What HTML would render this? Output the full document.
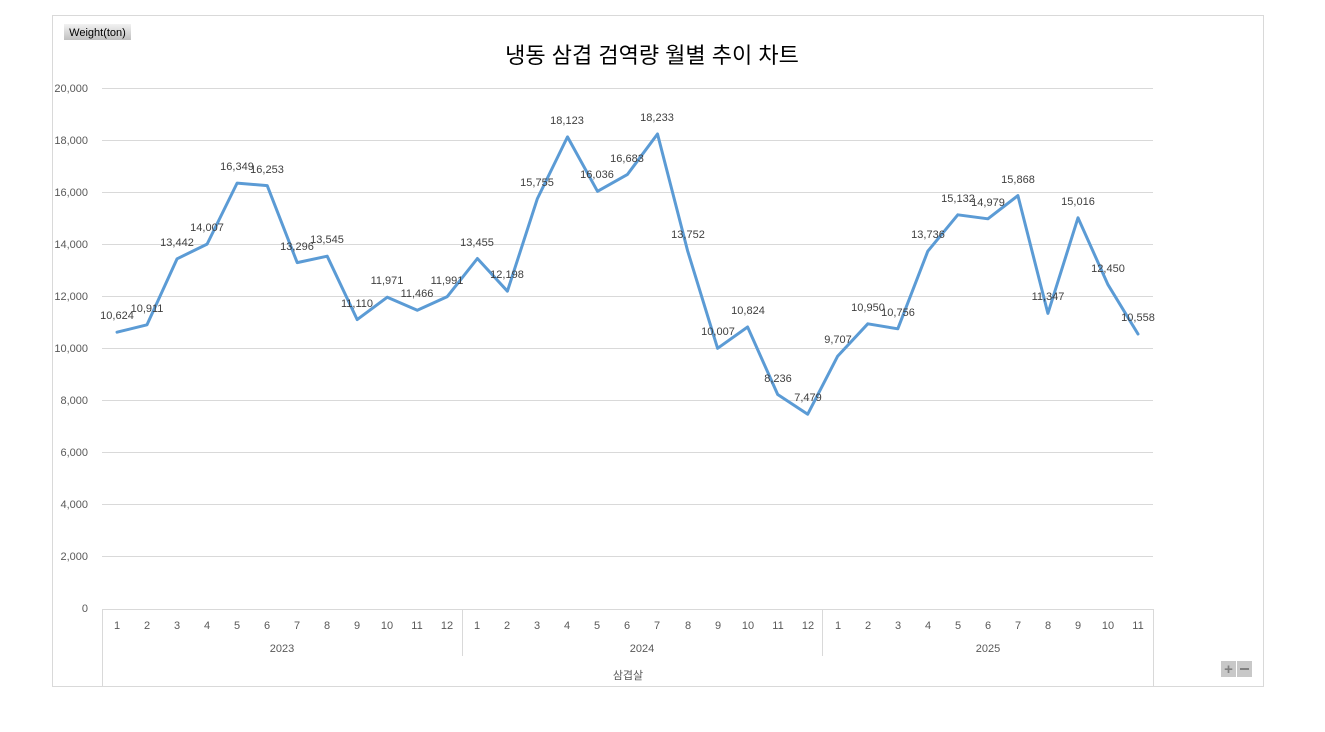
<!DOCTYPE html>
<html><head><meta charset="utf-8"><style>
body{margin:0;background:#fff;}
svg text{font-family:"Liberation Sans","Noto Sans CJK KR",sans-serif;}
</style></head><body>
<svg width="1325" height="727" xmlns="http://www.w3.org/2000/svg">
<rect x="52.5" y="15.5" width="1211" height="671" fill="#fff" stroke="#d9d9d9"/>
<defs><linearGradient id="g" x1="0" y1="0" x2="0" y2="1"><stop offset="0" stop-color="#f2f2f2"/><stop offset="1" stop-color="#bfbfbf"/></linearGradient></defs>
<rect x="64" y="24" width="67" height="16" fill="url(#g)"/>
<text x="97.5" y="36" font-size="11" text-anchor="middle" fill="#000">Weight(ton)</text>
<text x="652" y="63" font-size="22" text-anchor="middle" fill="#000">냉동 삼겹 검역량 월별 추이 차트</text>
<g stroke="#d9d9d9" stroke-width="1">
<line x1="102" y1="88.5" x2="1153" y2="88.5"/><line x1="102" y1="140.5" x2="1153" y2="140.5"/><line x1="102" y1="192.5" x2="1153" y2="192.5"/><line x1="102" y1="244.5" x2="1153" y2="244.5"/><line x1="102" y1="296.5" x2="1153" y2="296.5"/><line x1="102" y1="348.5" x2="1153" y2="348.5"/><line x1="102" y1="400.5" x2="1153" y2="400.5"/><line x1="102" y1="452.5" x2="1153" y2="452.5"/><line x1="102" y1="504.5" x2="1153" y2="504.5"/><line x1="102" y1="556.5" x2="1153" y2="556.5"/>
<line x1="102" y1="609.5" x2="1153" y2="609.5"/>
<line x1="102.5" y1="609" x2="102.5" y2="686"/><line x1="462.5" y1="609" x2="462.5" y2="656"/><line x1="822.5" y1="609" x2="822.5" y2="656"/><line x1="1153.5" y1="609" x2="1153.5" y2="686"/>
</g>
<g font-size="11" fill="#595959" text-anchor="end">
<text x="88" y="92">20,000</text><text x="88" y="144">18,000</text><text x="88" y="196">16,000</text><text x="88" y="248">14,000</text><text x="88" y="300">12,000</text><text x="88" y="352">10,000</text><text x="88" y="404">8,000</text><text x="88" y="456">6,000</text><text x="88" y="508">4,000</text><text x="88" y="560">2,000</text><text x="88" y="612">0</text>
</g>
<g font-size="11" fill="#595959" text-anchor="middle">
<text x="117" y="629">1</text><text x="147" y="629">2</text><text x="177" y="629">3</text><text x="207" y="629">4</text><text x="237" y="629">5</text><text x="267" y="629">6</text><text x="297" y="629">7</text><text x="327" y="629">8</text><text x="357" y="629">9</text><text x="387" y="629">10</text><text x="417" y="629">11</text><text x="447" y="629">12</text>
<text x="477" y="629">1</text><text x="507" y="629">2</text><text x="537" y="629">3</text><text x="567" y="629">4</text><text x="597" y="629">5</text><text x="627" y="629">6</text><text x="657" y="629">7</text><text x="688" y="629">8</text><text x="718" y="629">9</text><text x="748" y="629">10</text><text x="778" y="629">11</text><text x="808" y="629">12</text>
<text x="838" y="629">1</text><text x="868" y="629">2</text><text x="898" y="629">3</text><text x="928" y="629">4</text><text x="958" y="629">5</text><text x="988" y="629">6</text><text x="1018" y="629">7</text><text x="1048" y="629">8</text><text x="1078" y="629">9</text><text x="1108" y="629">10</text><text x="1138" y="629">11</text>
<text x="282" y="652">2023</text><text x="642" y="652">2024</text><text x="988" y="652">2025</text>
<text x="628" y="679">삼겹살</text>
</g>
<polyline fill="none" stroke="#5b9bd5" stroke-width="3" stroke-linejoin="round" stroke-linecap="round" points="117,332.2 147,324.8 177.1,258.8 207.1,244.1 237.1,183.1 267.2,185.6 297.2,262.6 327.2,256.2 357.2,319.6 387.3,297.2 417.3,310.3 447.3,296.6 477.4,258.5 507.4,291.2 537.4,198.6 567.5,136.9 597.5,191.3 627.5,174.4 657.5,134 687.6,250.8 717.6,348.3 747.6,327 777.7,394.5 807.7,414.2 837.7,356.1 867.8,323.8 897.8,328.8 927.8,251.2 957.8,214.8 987.9,218.8 1017.9,195.6 1047.9,313.4 1078,217.8 1108,284.7 1138,334"/>
<g font-size="11" fill="#404040" text-anchor="middle">
<text x="117" y="319">10,624</text><text x="147" y="312">10,911</text><text x="177" y="246">13,442</text><text x="207" y="231">14,007</text><text x="237" y="170">16,349</text><text x="267" y="173">16,253</text><text x="297" y="250">13,296</text><text x="327" y="243">13,545</text><text x="357" y="307">11,110</text><text x="387" y="284">11,971</text><text x="417" y="297">11,466</text><text x="447" y="284">11,991</text>
<text x="477" y="246">13,455</text><text x="507" y="278">12,198</text><text x="537" y="186">15,755</text><text x="567" y="124">18,123</text><text x="597" y="178">16,036</text><text x="627" y="162">16,683</text><text x="657" y="121">18,233</text><text x="688" y="238">13,752</text><text x="718" y="335">10,007</text><text x="748" y="314">10,824</text><text x="778" y="382">8,236</text><text x="808" y="401">7,479</text>
<text x="838" y="343">9,707</text><text x="868" y="311">10,950</text><text x="898" y="316">10,756</text><text x="928" y="238">13,736</text><text x="958" y="202">15,132</text><text x="988" y="206">14,979</text><text x="1018" y="183">15,868</text><text x="1048" y="300">11,347</text><text x="1078" y="205">15,016</text><text x="1108" y="272">12,450</text><text x="1138" y="321">10,558</text>
</g>
<rect x="1221" y="661" width="15" height="16" fill="#c8c8c8"/><rect x="1237" y="661" width="15" height="16" fill="#c8c8c8"/>
<text x="1228.5" y="674" font-size="15" font-weight="bold" text-anchor="middle" fill="#808080">+</text>
<rect x="1240" y="668" width="9" height="2" fill="#808080"/>
</svg>
</body></html>
